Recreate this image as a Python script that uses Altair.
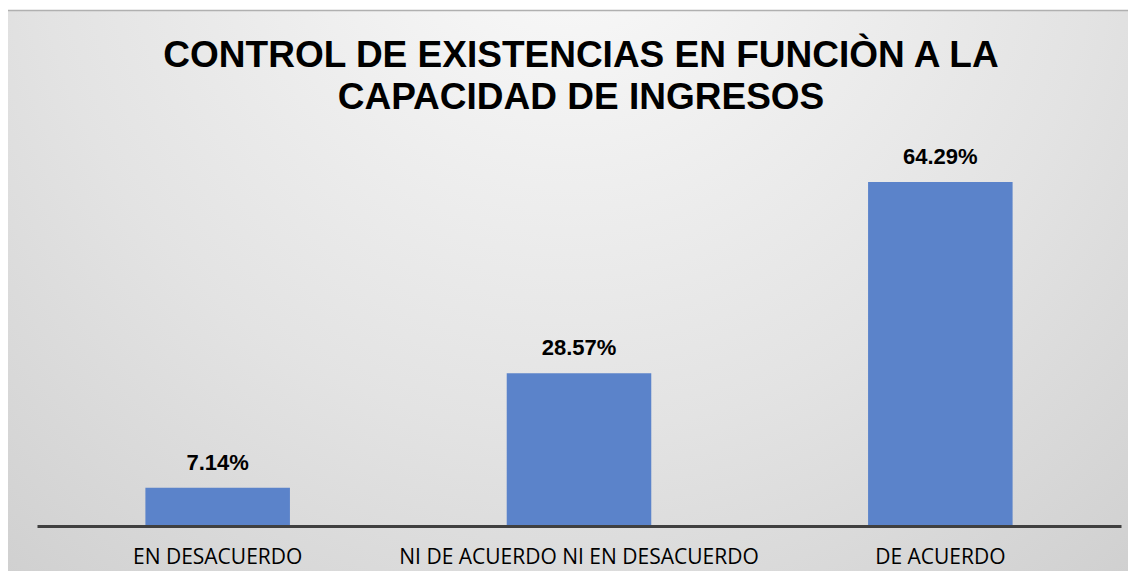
import altair as alt
import pandas as pd

categories = ["EN DESACUERDO", "NI DE ACUERDO NI EN DESACUERDO", "DE ACUERDO"]
values = [7.14, 28.57, 64.29]
labels = ["7.14%", "28.57%", "64.29%"]
title_lines = ["CONTROL DE EXISTENCIAS EN FUNCIÒN A LA", "CAPACIDAD DE INGRESOS"]

df = pd.DataFrame({"cat": categories, "val": values, "lab": labels})

W, H = 1084, 428
PL, PT, PR, PB = 29, 90, 7, 45

grad = alt.RadialGradient(
    gradient="radial",
    x1=0.5, y1=0.15, r1=0.0,
    x2=0.5, y2=0.15, r2=0.95,
    stops=[
        alt.GradientStop(offset=0.0, color="#fbfbfb"),
        alt.GradientStop(offset=0.5, color="#e3e3e3"),
        alt.GradientStop(offset=1.0, color="#c6c6c6"),
    ],
)

one = alt.Data(values=[{}])

bg = alt.Chart(one).mark_rect(fill=grad).encode(
    x=alt.value(-PL), x2=alt.value(W + PR),
    y=alt.value(-PT + 2), y2=alt.value(H + PB),
)
topline = alt.Chart(one).mark_rule(color="#b0b0b0", strokeWidth=1.5).encode(
    x=alt.value(-PL), x2=alt.value(W + PR), y=alt.value(-PT + 2.5)
)

xenc = alt.X(
    "cat:N", sort=categories,
    scale=alt.Scale(paddingInner=0.6, paddingOuter=0.3),
    axis=alt.Axis(title=None, labelAngle=0, ticks=False, grid=False,
                  domainColor="#404040", domainWidth=3,
                  labelFont="Open Sans", labelFontSize=21, labelColor="#000000",
                  labelPadding=20, labelLimit=0, zindex=1),
)
base = alt.Chart(df).encode(x=xenc)
bars = base.mark_bar(color="#5B83CA").encode(
    y=alt.Y("val:Q", scale=alt.Scale(domain=[0, 80]), axis=None)
)
vals = base.mark_text(dy=-18, baseline="alphabetic", font="Liberation Sans",
                      fontWeight="bold", fontSize=22, color="#000000").encode(
    y=alt.Y("val:Q"), text="lab:N"
)
title = alt.Chart(one).mark_text(
    text="\n".join(title_lines), lineBreak="\n", lineHeight=42,
    font="Liberation Sans", fontWeight="bold", fontSize=37, color="#000000",
    align="center", baseline="alphabetic",
).encode(x=alt.value(544), y=alt.value(67 - 98))

chart = alt.layer(bg, topline, bars, vals, title).properties(
    width=W, height=H,
    autosize=alt.AutoSizeParams(type="none"),
    padding={"left": PL, "top": PT, "right": PR, "bottom": PB},
    background="white",
).configure_view(strokeWidth=0)

chart.save("out.html", embed_options={"renderer": "svg", "actions": False})
